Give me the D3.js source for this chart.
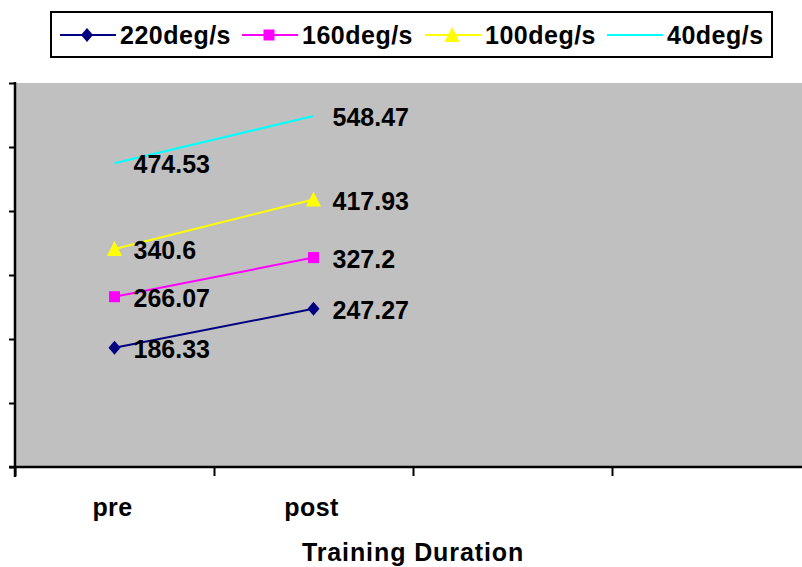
<!DOCTYPE html>
<html>
<head>
<meta charset="utf-8">
<script src="https://cdn.jsdelivr.net/npm/d3@7"></script>
<style>
  html, body { margin: 0; padding: 0; background: #fff; }
  svg { display: block; font-family: "Liberation Sans", Arial, sans-serif; font-weight: bold; }
</style>
</head>
<body>
<svg id="chart" width="802" height="567"></svg>
<script>
// ---- data ----
const categories = ["pre", "post", "", ""];
const seriesNames = ["220deg/s", "160deg/s", "100deg/s", "40deg/s"];
const values220 = [186.33, 247.27];
const values160 = [266.07, 327.2];
const values100 = [340.6, 417.93];
const values40 = [474.53, 548.47];
const yTicks = [0, 100, 200, 300, 400, 500, 600];
const xTitle = "Training Duration";

// ---- styles ----
const colors = ["#000080", "#FF00FF", "#FFFF00", "#00FFFF"];
const markers = ["diamond", "square", "triangle", "none"];
const seriesValues = [values220, values160, values100, values40];

const svg = d3.select("#chart");
const pLeft = 15, pRight = 811, pTop = 83, pBottom = 467;

const xi = d3.scaleLinear().domain([0, categories.length]).range([pLeft, pRight]);
const y = d3.scaleLinear().domain([0, 600]).range([pBottom, pTop]);

// plot background
svg.append("rect")
  .attr("x", pLeft).attr("y", pTop)
  .attr("width", pRight - pLeft).attr("height", pBottom - pTop)
  .attr("fill", "#C0C0C0");

function markerPath(type) {
  if (type === "diamond") return "M0,-7L6,0L0,7L-6,0Z";
  if (type === "square") return "M-5.5,-5.5H5.5V5.5H-5.5Z";
  if (type === "triangle") return "M0,-8L7.5,7L-7.5,7Z";
  return null;
}

// series
seriesValues.forEach((vals, s) => {
  const line = d3.line().x((d, i) => xi(i + 0.5)).y(d => y(d));
  svg.append("path")
    .datum(vals)
    .attr("d", line)
    .attr("fill", "none")
    .attr("stroke", colors[s])
    .attr("stroke-width", 2);
  const mp = markerPath(markers[s]);
  if (mp) {
    svg.selectAll(null).data(vals).enter().append("path")
      .attr("d", mp)
      .attr("transform", (d, i) => `translate(${xi(i + 0.5)},${y(d)})`)
      .attr("fill", colors[s]);
  }
  svg.selectAll(null).data(vals).enter().append("text")
    .attr("x", (d, i) => xi(i + 0.5) + 19)
    .attr("y", d => y(d) + 10)
    .attr("font-size", 25)
    .attr("fill", "#000")
    .text(d => String(d));
});

// y axis
const yAxis = d3.axisLeft(y).tickValues(yTicks).tickSize(6).tickFormat("");
const gy = svg.append("g").attr("transform", `translate(${pLeft},0)`).call(yAxis);
gy.select(".domain").attr("stroke", "#000").attr("stroke-width", 2.5).attr("d", `M0,${pTop - 1}V${pBottom + 10}`);
gy.selectAll(".tick line").attr("stroke", "#000").attr("stroke-width", 2);

// x axis
const xAxis = d3.axisBottom(xi).tickValues(d3.range(categories.length + 1)).tickSize(9).tickFormat("");
const gx = svg.append("g").attr("transform", `translate(0,${pBottom})`).call(xAxis);
gx.select(".domain").attr("stroke", "#000").attr("stroke-width", 2.5).attr("d", `M${pLeft - 6},0H${pRight}`);
gx.selectAll(".tick line").attr("stroke", "#000").attr("stroke-width", 2);

// category labels
svg.selectAll(null).data(categories).enter().append("text")
  .attr("x", (d, i) => xi(i + 0.5) - 2)
  .attr("y", 516)
  .attr("text-anchor", "middle")
  .attr("font-size", 25)
  .attr("letter-spacing", 0.4)
  .text(d => d);

// axis title
svg.append("text")
  .attr("x", (pLeft + pRight) / 2)
  .attr("y", 561)
  .attr("text-anchor", "middle")
  .attr("font-size", 25)
  .attr("letter-spacing", 0.9)
  .text(xTitle);

// legend
svg.append("rect")
  .attr("x", 51).attr("y", 12)
  .attr("width", 721).attr("height", 45)
  .attr("fill", "#fff")
  .attr("stroke", "#000")
  .attr("stroke-width", 2);
const legendX = [60, 242, 425, 607];
seriesNames.forEach((name, s) => {
  const g = svg.append("g").attr("transform", `translate(${legendX[s]},35)`);
  g.append("line").attr("x1", 0).attr("x2", 56).attr("y1", 0).attr("y2", 0)
    .attr("stroke", colors[s]).attr("stroke-width", 2);
  const mp = markerPath(markers[s]);
  if (mp) g.append("path").attr("d", mp).attr("transform", "translate(27,0)").attr("fill", colors[s]);
  g.append("text").attr("x", 60).attr("y", 9).attr("font-size", 25)
    .attr("letter-spacing", 0.5).text(name);
});
</script>
</body>
</html>
